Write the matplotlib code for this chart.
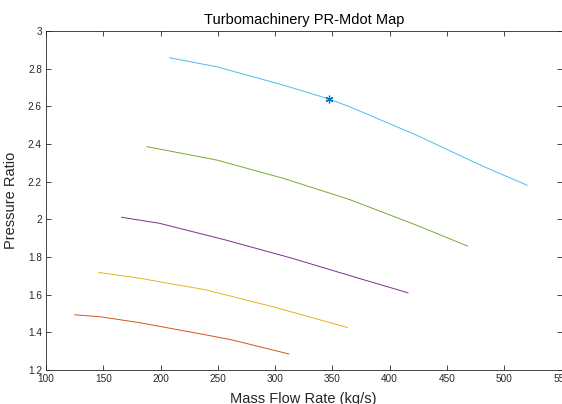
import matplotlib.pyplot as plt
import numpy as np

# mass flow (kg/s) and pressure ratio for each speed line
mdot_1 = [208, 249, 307, 347, 365, 423, 481, 520]
pr_1 = [2.858, 2.810, 2.713, 2.639, 2.598, 2.448, 2.283, 2.181]

mdot_2 = [188, 249, 307, 365, 423, 468]
pr_2 = [2.386, 2.315, 2.218, 2.105, 1.970, 1.858]

mdot_3 = [166, 199, 257, 315, 373, 416]
pr_3 = [2.011, 1.979, 1.890, 1.793, 1.687, 1.610]

mdot_4 = [146, 182, 240, 298, 363]
pr_4 = [1.718, 1.687, 1.625, 1.536, 1.426]

mdot_5 = [125, 147, 182, 240, 263, 312]
pr_5 = [1.493, 1.483, 1.451, 1.386, 1.359, 1.285]

# operating point
op_mdot = [347]
op_pr = [2.640]

colors = [(0.301, 0.745, 0.933), (0.466, 0.674, 0.188), (0.494, 0.184, 0.556),
          (0.929, 0.694, 0.125), (0.850, 0.325, 0.098)]

plt.rcParams['font.family'] = ['Liberation Sans', 'DejaVu Sans']

fig = plt.figure(figsize=(5.62, 4.04), dpi=100)
ax = fig.add_axes([46 / 562, 34 / 404, 515.5 / 562, 339 / 404])

lines = [(mdot_1, pr_1), (mdot_2, pr_2), (mdot_3, pr_3), (mdot_4, pr_4), (mdot_5, pr_5)]
for (m, p), c in zip(lines, colors):
    ax.plot(m, p, color=c, lw=0.7)

# asterisk marker like matlab '*'
ax.plot(op_mdot, op_pr, marker=(6, 2, 0), color=(0.0, 0.447, 0.741), ms=5.5, mew=0.9, ls='none')

ax.set_xlim(100, 550)
ax.set_ylim(1.2, 3)
ax.set_xticks(np.arange(100, 551, 50))
yt = np.arange(1.2, 3.01, 0.2)
ax.set_yticks(yt)
ax.set_yticklabels([f'{v:g}' for v in np.round(yt, 1)])

grey = (0.15, 0.15, 0.15)
for s in ax.spines.values():
    s.set_color(grey)
    s.set_linewidth(0.6)
ax.tick_params(direction='in', length=3.5, width=0.6, top=True, right=True,
               labelsize=7.2, colors=grey, labelcolor=grey, pad=3)

ax.set_title('Turbomachinery PR-Mdot Map', fontsize=10.5, color='black', pad=5)
ax.set_xlabel('Mass Flow Rate (kg/s)', fontsize=10.5, color=grey, labelpad=6)
ax.set_ylabel('Pressure Ratio', fontsize=10.5, color=grey, labelpad=7)

fig.savefig('out.png', dpi=100)
